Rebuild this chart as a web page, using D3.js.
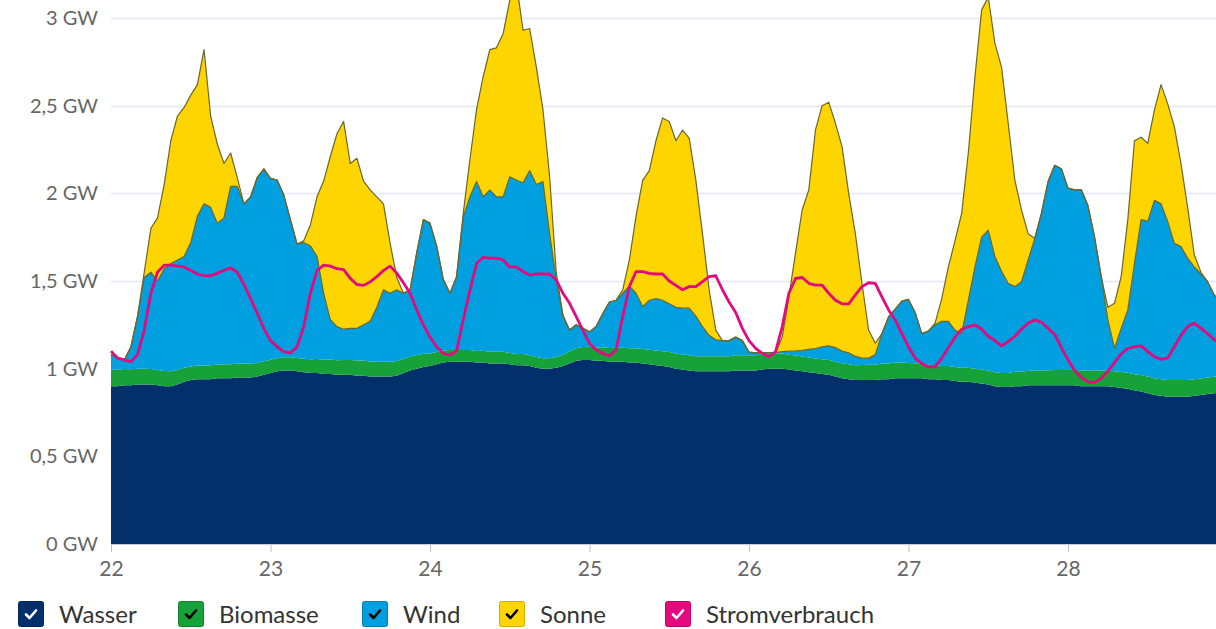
<!DOCTYPE html>
<html>
<head>
<meta charset="utf-8">
<script src="https://cdn.jsdelivr.net/npm/d3@7"></script>
<style>
  html, body { margin: 0; padding: 0; background: #fff; overflow: hidden; }
  svg { display: block; font-family: Lato, 'Open Sans', sans-serif; }
</style>
</head>
<body>
<div id="chart"></div>
<script>
// hourly values in GW, starting at day 22 00:00
const startDay = 22

const wasser = [
  0.90, 0.90, 0.905, 0.905, 0.91, 0.91, 0.91, 0.905, 0.90, 0.90, 0.91, 0.925,
  0.935, 0.94, 0.94, 0.94, 0.945, 0.945, 0.945, 0.95, 0.95, 0.95, 0.955, 0.965,
  0.975, 0.985, 0.99, 0.99, 0.985, 0.98, 0.975, 0.975, 0.97, 0.97, 0.965, 0.965,
  0.965, 0.96, 0.96, 0.955, 0.955, 0.955, 0.955, 0.96, 0.975, 0.99, 1.00, 1.01,
  1.015, 1.025, 1.035, 1.04, 1.04, 1.04, 1.04, 1.035, 1.035, 1.03, 1.03, 1.03,
  1.025, 1.02, 1.02, 1.015, 1.005, 1.0, 1.0, 1.005, 1.015, 1.03, 1.045, 1.05,
  1.05, 1.045, 1.045, 1.04, 1.04, 1.04, 1.035, 1.035, 1.03, 1.025, 1.02, 1.015,
  1.01, 1.0, 0.995, 0.99, 0.985, 0.985, 0.985, 0.985, 0.985, 0.985, 0.99, 0.99,
  0.99, 0.99, 0.995, 1.0, 1.0, 1.0, 0.995, 0.99, 0.985, 0.98, 0.975, 0.97,
  0.965, 0.955, 0.945, 0.94, 0.935, 0.935, 0.935, 0.935, 0.94, 0.94, 0.945, 0.945,
  0.945, 0.945, 0.945, 0.94, 0.94, 0.935, 0.935, 0.93, 0.925, 0.925, 0.92, 0.915,
  0.91, 0.90, 0.895, 0.895, 0.90, 0.90, 0.905, 0.905, 0.905, 0.905, 0.905, 0.905,
  0.905, 0.905, 0.90, 0.90, 0.90, 0.90, 0.90, 0.895, 0.89, 0.885, 0.875, 0.87,
  0.86, 0.85, 0.845, 0.84, 0.84, 0.84, 0.84, 0.845, 0.85, 0.855, 0.86, 0.865
]

const biomasse = [
  0.095, 0.094, 0.093, 0.092, 0.09, 0.089, 0.088, 0.087, 0.086, 0.085, 0.083, 0.08,
  0.078, 0.078, 0.078, 0.079, 0.079, 0.08, 0.08, 0.08, 0.08, 0.079, 0.078, 0.077,
  0.076, 0.075, 0.075, 0.075, 0.076, 0.077, 0.078, 0.08, 0.081, 0.082, 0.083, 0.084,
  0.085, 0.086, 0.086, 0.086, 0.085, 0.085, 0.085, 0.084, 0.082, 0.08, 0.078, 0.075,
  0.072, 0.07, 0.068, 0.066, 0.066, 0.066, 0.066, 0.066, 0.067, 0.067, 0.067, 0.066,
  0.065, 0.064, 0.063, 0.062, 0.061, 0.06, 0.06, 0.062, 0.065, 0.068, 0.071, 0.074,
  0.075, 0.076, 0.077, 0.078, 0.079, 0.08, 0.081, 0.082, 0.082, 0.083, 0.084, 0.085,
  0.085, 0.086, 0.086, 0.086, 0.086, 0.086, 0.086, 0.086, 0.086, 0.086, 0.086, 0.086,
  0.086, 0.086, 0.086, 0.086, 0.086, 0.086, 0.085, 0.085, 0.084, 0.084, 0.083, 0.083,
  0.084, 0.084, 0.085, 0.085, 0.085, 0.086, 0.087, 0.088, 0.089, 0.09, 0.09, 0.09,
  0.088, 0.086, 0.084, 0.082, 0.08, 0.08, 0.08, 0.08, 0.08, 0.08, 0.08, 0.08,
  0.08, 0.08, 0.08, 0.081, 0.082, 0.083, 0.083, 0.084, 0.085, 0.086, 0.087, 0.088,
  0.088, 0.089, 0.089, 0.089, 0.089, 0.089, 0.09, 0.09, 0.091, 0.092, 0.093, 0.094,
  0.095, 0.095, 0.095, 0.095, 0.095, 0.095, 0.095, 0.095, 0.094, 0.094, 0.094, 0.094
]

const wind = [
  0.085, 0.071, 0.052, 0.128, 0.30, 0.521, 0.552, 0.508, 0.584, 0.615, 0.627, 0.635,
  0.707, 0.852, 0.922, 0.901, 0.806, 0.835, 1.015, 1.01, 0.91, 0.951, 1.057, 1.098,
  1.034, 1.016, 0.925, 0.785, 0.649, 0.663, 0.647, 0.585, 0.379, 0.228, 0.192, 0.176,
  0.18, 0.184, 0.204, 0.229, 0.31, 0.41, 0.39, 0.406, 0.373, 0.38, 0.582, 0.765,
  0.743, 0.605, 0.407, 0.324, 0.419, 0.76, 0.874, 0.966, 0.878, 0.923, 0.883, 0.884,
  1.005, 0.992, 0.977, 1.053, 0.984, 1.007, 0.71, 0.439, 0.217, 0.122, 0.134, 0.106,
  0.085, 0.119, 0.193, 0.262, 0.271, 0.31, 0.354, 0.313, 0.242, 0.282, 0.296, 0.29,
  0.275, 0.264, 0.264, 0.269, 0.229, 0.169, 0.119, 0.094, 0.089, 0.089, 0.104, 0.084,
  0.019, 0.014, 0.009, 0.006, 0.005, 0.011, 0.02, 0.025, 0.036, 0.046, 0.057, 0.072,
  0.081, 0.081, 0.07, 0.065, 0.05, 0.039, 0.038, 0.057, 0.171, 0.265, 0.305, 0.35,
  0.362, 0.289, 0.171, 0.193, 0.23, 0.255, 0.255, 0.21, 0.195, 0.385, 0.58, 0.755,
  0.80, 0.66, 0.581, 0.511, 0.486, 0.513, 0.632, 0.754, 0.896, 1.076, 1.168, 1.147,
  1.037, 1.026, 1.031, 0.941, 0.761, 0.536, 0.288, 0.131, 0.249, 0.358, 0.632, 0.886,
  0.885, 1.015, 1.00, 0.905, 0.78, 0.761, 0.695, 0.64, 0.596, 0.547, 0.466, 0.421
]

const sonne = [
  0, 0, 0, 0, 0, 0.03, 0.25, 0.36, 0.48, 0.70, 0.82, 0.85,
  0.84, 0.75, 0.88, 0.52, 0.45, 0.31, 0.19, 0.05, 0, 0, 0, 0,
  0, 0, 0, 0, 0, 0.01, 0.12, 0.34, 0.64, 0.93, 1.10, 1.185,
  0.94, 0.97, 0.82, 0.75, 0.63, 0.49, 0.285, 0.07, 0, 0, 0, 0,
  0, 0, 0, 0, 0, 0.02, 0.21, 0.41, 0.685, 0.80, 0.85, 0.93,
  1.005, 1.125, 0.87, 0.81, 0.67, 0.41, 0.325, 0.04, 0.01, 0, 0, 0,
  0, 0, 0, 0, 0, 0.02, 0.15, 0.44, 0.72, 0.74, 0.90, 1.04,
  1.04, 0.95, 1.015, 0.97, 0.775, 0.53, 0.26, 0.055, 0, 0, 0, 0,
  0, 0, 0, 0, 0, 0.083, 0.31, 0.56, 0.80, 0.91, 1.245, 1.375,
  1.39, 1.28, 1.166, 0.91, 0.70, 0.427, 0.16, 0.065, 0, 0, 0, 0,
  0, 0, 0, 0, 0.01, 0.13, 0.31, 0.51, 0.686, 0.84, 1.085, 1.295,
  1.33, 1.215, 1.164, 0.913, 0.608, 0.409, 0.15, 0, 0, 0, 0, 0,
  0, 0, 0, 0, 0, 0, 0.072, 0.257, 0.295, 0.515, 0.70, 0.47,
  0.445, 0.515, 0.68, 0.67, 0.665, 0.474, 0.29, 0.07, 0.01, 0, 0, 0
]

const stromverbrauch = [
  1.10, 1.06, 1.05, 1.04, 1.08, 1.22, 1.43, 1.55, 1.59, 1.59, 1.585, 1.58,
  1.56, 1.54, 1.53, 1.53, 1.545, 1.56, 1.575, 1.55, 1.48, 1.40, 1.316, 1.23,
  1.16, 1.125, 1.097, 1.09, 1.125, 1.24, 1.43, 1.56, 1.59, 1.585, 1.57, 1.565,
  1.515, 1.48, 1.475, 1.495, 1.525, 1.56, 1.585, 1.545, 1.49, 1.43, 1.335, 1.25,
  1.18, 1.125, 1.087, 1.078, 1.10, 1.28, 1.445, 1.60, 1.635, 1.63, 1.63, 1.62,
  1.58, 1.58, 1.553, 1.534, 1.54, 1.54, 1.54, 1.506, 1.43, 1.373, 1.297, 1.22,
  1.144, 1.106, 1.087, 1.072, 1.106, 1.297, 1.468, 1.553, 1.553, 1.544, 1.54, 1.54,
  1.50, 1.475, 1.45, 1.468, 1.468, 1.496, 1.525, 1.53, 1.45, 1.38, 1.32, 1.23,
  1.16, 1.116, 1.087, 1.068, 1.097, 1.24, 1.43, 1.515, 1.52, 1.487, 1.477, 1.477,
  1.43, 1.39, 1.37, 1.37, 1.42, 1.468, 1.49, 1.487, 1.41, 1.335, 1.278, 1.20,
  1.125, 1.06, 1.03, 1.01, 1.01, 1.06, 1.12, 1.18, 1.225, 1.24, 1.25, 1.225,
  1.185, 1.16, 1.13, 1.154, 1.185, 1.225, 1.26, 1.278, 1.265, 1.23, 1.195, 1.12,
  1.05, 0.99, 0.95, 0.925, 0.92, 0.945, 0.985, 1.035, 1.085, 1.115, 1.125, 1.13,
  1.097, 1.068, 1.053, 1.06, 1.125, 1.19, 1.24, 1.26, 1.23, 1.20, 1.165, 1.15
]

const seriesNames = ['Wasser', 'Biomasse', 'Wind', 'Sonne', 'Stromverbrauch']
const seriesColors = ['#03306a', '#17a239', '#009fe0', '#ffd500', '#e5097f']
const checkColors = ['#fff', '#000', '#000', '#000', '#fff']

const xTicks = [22, 23, 24, 25, 26, 27, 28]
const yTicks = [0, 0.5, 1, 1.5, 2, 2.5, 3]
const yTickLabels = ['0 GW', '0,5 GW', '1 GW', '1,5 GW', '2 GW', '2,5 GW', '3 GW']

let width = 1216, height = 629
let plotLeft = 111, plotRight = 1216, plotBottom = 544

let rows = wasser.map((w, i) => ({
  t: startDay + i / 24,
  Wasser: w,
  Biomasse: biomasse[i],
  Wind: wind[i],
  Sonne: sonne[i],
  Stromverbrauch: stromverbrauch[i]
}))

let x = d3.scaleLinear().domain([22, 29]).range([plotLeft, plotLeft + 7 * 159.5])
let y = d3.scaleLinear().domain([0, 3]).range([plotBottom, 18])

let svg = d3.select('#chart').append('svg')
  .attr('width', width)
  .attr('height', height)

// grid
svg.append('g')
  .selectAll('line')
  .data(yTicks.filter(d => d > 0))
  .join('line')
  .attr('x1', plotLeft)
  .attr('x2', plotRight)
  .attr('y1', d => Math.round(y(d)) + 0.5)
  .attr('y2', d => Math.round(y(d)) + 0.5)
  .attr('stroke', '#e3e7f3')
  .attr('stroke-width', 1.5)

let stack = d3.stack().keys(['Wasser', 'Biomasse', 'Wind', 'Sonne'])
let layers = stack(rows)

let area = d3.area()
  .x(d => x(d.data.t))
  .y0(d => y(d[0]))
  .y1(d => y(d[1]))

let topLine = d3.line()
  .x(d => x(d.data.t))
  .y(d => y(d[1]))

svg.append('g')
  .selectAll('path')
  .data(layers)
  .join('path')
  .attr('fill', (d, i) => seriesColors[i])
  .attr('d', area)

// thin olive edge on top of wind and sun
svg.append('g')
  .selectAll('path')
  .data(layers.slice(2))
  .join('path')
  .attr('fill', 'none')
  .attr('stroke', '#6a6630')
  .attr('stroke-width', 1.2)
  .attr('stroke-linejoin', 'round')
  .attr('d', topLine)

// consumption line
let line = d3.line()
  .x(d => x(d.t))
  .y(d => y(d.Stromverbrauch))

svg.append('path')
  .datum(rows)
  .attr('fill', 'none')
  .attr('stroke', seriesColors[4])
  .attr('stroke-width', 2.8)
  .attr('stroke-linejoin', 'round')
  .attr('d', line)

// x axis
let xAxis = d3.axisBottom(x)
  .tickValues(xTicks)
  .tickFormat(d3.format('d'))
  .tickSize(8)
  .tickPadding(9)

let gx = svg.append('g')
  .attr('transform', 'translate(0,' + plotBottom + ')')
  .call(xAxis)
gx.select('.domain').remove()
gx.append('line')
  .attr('x1', plotLeft)
  .attr('x2', plotRight)
  .attr('y1', 0.5)
  .attr('y2', 0.5)
  .attr('stroke', '#c5cbd8')
gx.selectAll('.tick line').attr('stroke', '#b8bfcc')
gx.selectAll('.tick text')
  .attr('fill', '#666')
  .style('font-size', '21px')
  .style('font-family', 'Lato, sans-serif')

// y axis labels
let yAxis = d3.axisLeft(y)
  .tickValues(yTicks)
  .tickFormat((d, i) => yTickLabels[i])
  .tickSize(0)
  .tickPadding(13)

let gy = svg.append('g')
  .attr('transform', 'translate(' + plotLeft + ',0)')
  .call(yAxis)
gy.select('.domain').remove()
gy.selectAll('.tick text')
  .attr('fill', '#666')
  .style('font-size', '20px')
  .style('font-family', 'Lato, sans-serif')

// legend
let legendX = [18, 178, 362, 499, 665]
let legend = svg.append('g')
  .selectAll('g')
  .data(seriesNames)
  .join('g')
  .attr('transform', (d, i) => 'translate(' + legendX[i] + ',601)')

legend.append('rect')
  .attr('x', 0.5)
  .attr('y', 0.5)
  .attr('width', 25)
  .attr('height', 25)
  .attr('rx', 2)
  .attr('fill', (d, i) => seriesColors[i])
  .attr('stroke', (d, i) => d3.color(seriesColors[i]).darker(0.6))

legend.append('path')
  .attr('d', 'M8,13.5 L11.5,17 L18,9.5')
  .attr('fill', 'none')
  .attr('stroke', (d, i) => checkColors[i])
  .attr('stroke-width', 2.6)
  .attr('stroke-linecap', 'round')
  .attr('stroke-linejoin', 'round')

legend.append('text')
  .attr('x', 41)
  .attr('y', 22)
  .attr('fill', '#333')
  .style('font-size', '24px')
  .text(d => d)
</script>
</body>
</html>
